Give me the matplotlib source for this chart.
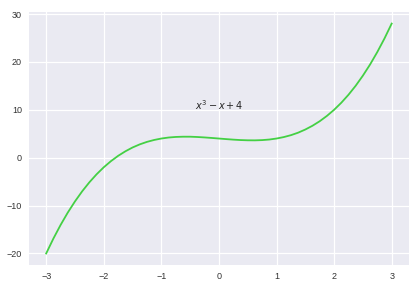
import numpy as np
import matplotlib
matplotlib.use("Agg")
import matplotlib.pyplot as plt

# points
x_vals = [-3.0, -2.875, -2.75, -2.625, -2.5, -2.375, -2.25, -2.125, -2.0,
          -1.875, -1.75, -1.625, -1.5, -1.375, -1.25, -1.125, -1.0,
          -0.875, -0.75, -0.625, -0.5, -0.375, -0.25, -0.125, 0.0,
          0.125, 0.25, 0.375, 0.5, 0.625, 0.75, 0.875, 1.0,
          1.125, 1.25, 1.375, 1.5, 1.625, 1.75, 1.875, 2.0,
          2.125, 2.25, 2.375, 2.5, 2.625, 2.75, 2.875, 3.0]
y_vals = [-20.0, -16.89, -14.05, -11.46, -9.13, -7.02, -5.14, -3.47, -2.0,
          -0.72, 0.39, 1.33, 2.13, 2.78, 3.30, 3.70, 4.0,
          4.21, 4.33, 4.38, 4.38, 4.32, 4.23, 4.12, 4.0,
          3.88, 3.77, 3.68, 3.63, 3.62, 3.67, 3.79, 4.0,
          4.30, 4.70, 5.22, 5.88, 6.67, 7.61, 8.72, 10.0,
          11.47, 13.14, 15.02, 17.13, 19.46, 22.05, 24.89, 28.0]
label_text = r'$x^3 - x + 4$'

plt.rcParams['font.family'] = ['Liberation Sans', 'DejaVu Sans']

fig = plt.figure(figsize=(4.19, 2.88), dpi=100)
ax = fig.add_axes([0.069, 0.080, 0.907, 0.878])
ax.set_facecolor('#EAEAF2')
for s in ax.spines.values():
    s.set_visible(False)
ax.grid(True, color='white', linewidth=0.9)
ax.set_axisbelow(True)

ax.plot(x_vals, y_vals, color='#44d044', linewidth=1.3)
ax.text(-0.42, 10, label_text, fontsize=7, color='#262626')

ax.set_xticks([-3, -2, -1, 0, 1, 2, 3])
ax.set_yticks([-20, -10, 0, 10, 20, 30])
ax.tick_params(length=0, labelsize=6.5, colors='#333333', pad=5)

fig.savefig('out.png', dpi=100)
